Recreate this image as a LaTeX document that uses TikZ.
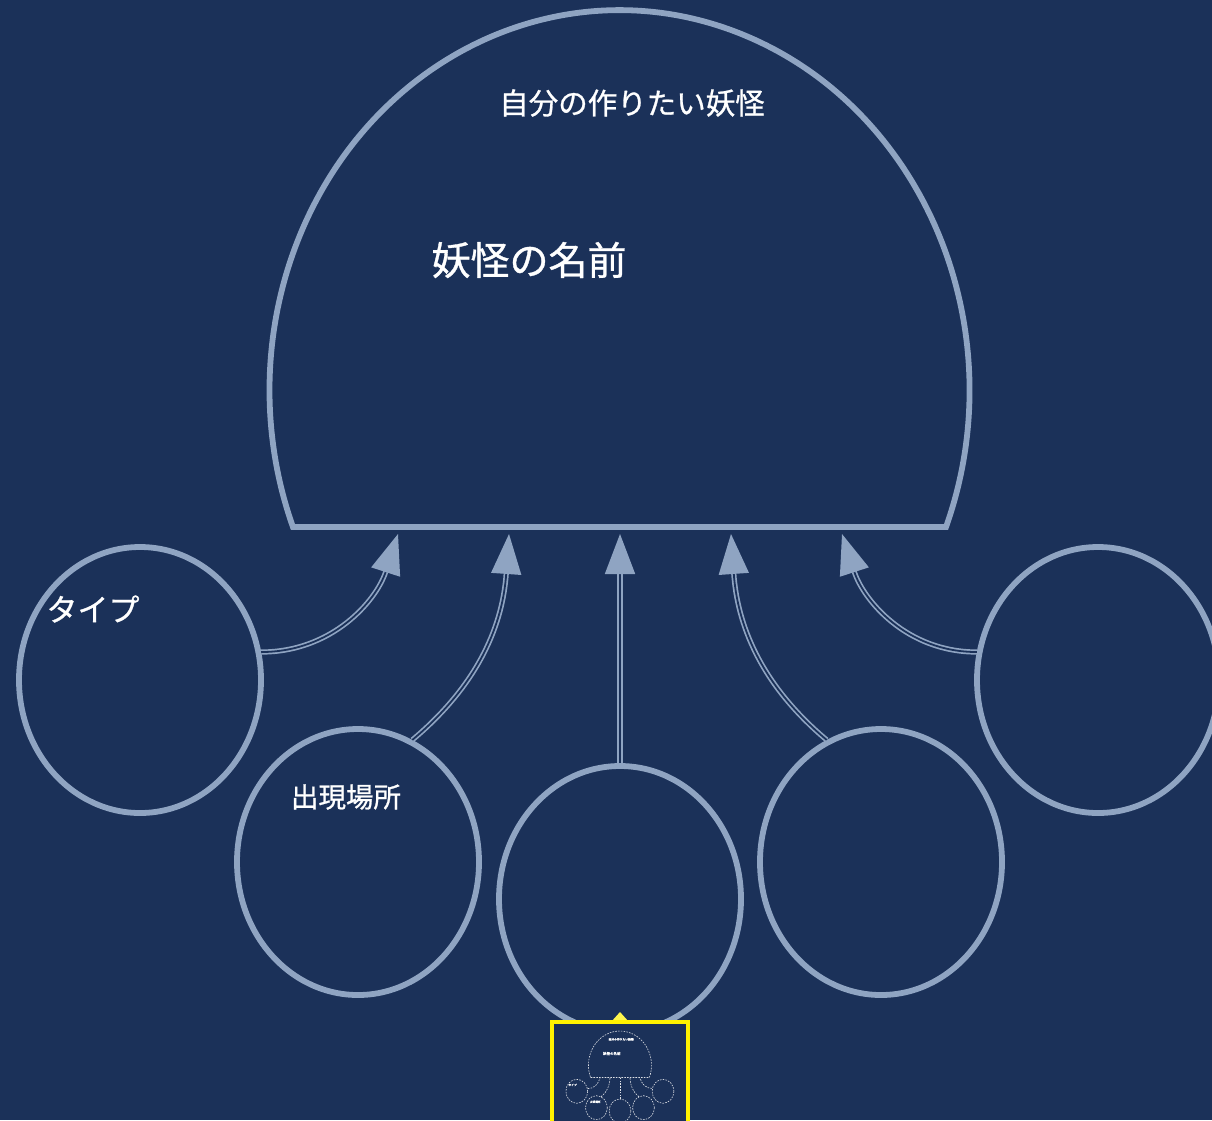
\documentclass[tikz,border=0pt]{standalone}
\usepackage{fontspec}
\newfontfamily\jpfont[FakeBold=0.9]{Noto Sans CJK JP}
\usetikzlibrary{shapes.geometric,arrows.meta}

\definecolor{navy}{RGB}{27,49,89}
\definecolor{rim}{RGB}{143,164,194}

\tikzset{
  bubble/.style={ellipse, draw=rim, line width=5.8pt, minimum width=242pt, minimum height=266pt, inner sep=0pt},
  link/.style={draw=rim, line width=1.7pt, double=navy, double distance=1.8pt, -{Triangle[length=40pt,width=30pt,fill=rim]}},
  txt/.style={text=white, font=\jpfont, inner sep=0pt},
  mini/.style={draw=white!85!navy, line width=0.6pt, dash pattern=on 1.6pt off 1.2pt},
}

\begin{document}
\begin{tikzpicture}[x=1pt,y=-1pt]

% Background
\fill[navy] (0,0) rectangle (1212,1120);
\useasboundingbox (0,0) rectangle (1212,1120);
\clip (0,0) rectangle (1212,1120);

% Dome (main yokai)
\draw[rim, line width=5.8pt, line join=miter] (294,527) -- (946,527) arc[start angle=21.1, end angle=-201.1, x radius=350, y radius=380] -- cycle;
\node[txt, font=\jpfont\fontsize{29.5}{32}\selectfont] (title) at (632,103) {自分の作りたい妖怪};
\node[txt, font=\jpfont\fontsize{39}{42}\selectfont] (name) at (529,260) {妖怪の名前};

% Arrow targets on the dome base
\coordinate (t1) at (398,534);
\coordinate (t2) at (509,534);
\coordinate (t3) at (620,534);
\coordinate (t4) at (731,534);
\coordinate (t5) at (842,534);

% Bubbles
\node[bubble] (type) at (140,680) {};
\node[bubble] (place) at (358,862) {};
\node[bubble] (mid) at (620,899) {};
\node[bubble] (right) at (881,862) {};
\node[bubble] (far) at (1098,680) {};

\node[txt, font=\jpfont\fontsize{31}{34}\selectfont] (typelbl) at (93,609) {タイプ};
\node[txt, font=\jpfont\fontsize{27.5}{30}\selectfont] (placelbl) at (346,797) {出現場所};

% Connectors
\draw[link] (type.13) to[out=0, in=-108] (t1);
\draw[link] (place.66) to[out=40, in=-94] (t2);
\draw[link] (mid.north) -- (t3);
\draw[link] (right.114) to[out=140, in=-86] (t4);
\draw[link] (far.167) to[out=180, in=-72] (t5);

% Preview box
\fill[yellow!70!white] (611,1022) -- (620,1012) -- (629,1022) -- cycle;
\draw[yellow, line width=4pt, fill=navy] (552,1022) rectangle (688,1130);

% Preview of the whole sheet
\begin{scope}[shift={(564.2,1030.1)}, scale=0.09]
  \draw[mini] (294,527) -- (946,527) arc[start angle=21.1, end angle=-201.1, x radius=350, y radius=380] -- cycle;
  \foreach \cx/\cy in {140/680, 358/862, 620/899, 881/862, 1098/680}
    \draw[mini] (\cx,\cy) ellipse[x radius=121, y radius=133];
  \draw[mini] (263,650) to[out=0, in=-108] (398,534);
  \draw[mini] (410,740) to[out=40, in=-94] (509,534);
  \draw[mini] (620,766) -- (620,534);
  \draw[mini] (830,740) to[out=140, in=-86] (731,534);
  \draw[mini] (975,648) to[out=180, in=-72] (842,534);
  \node[txt, font=\jpfont\fontsize{2.8}{3}\selectfont] (minititle) at (632,103) {自分の作りたい妖怪};
  \node[txt, font=\jpfont\fontsize{3.5}{4}\selectfont] (mininame) at (529,260) {妖怪の名前};
  \node[txt, font=\jpfont\fontsize{2.8}{3}\selectfont] (minitype) at (93,609) {タイプ};
  \node[txt, font=\jpfont\fontsize{2.6}{3}\selectfont] (miniplace) at (346,797) {出現場所};
\end{scope}

\end{tikzpicture}
\end{document}
